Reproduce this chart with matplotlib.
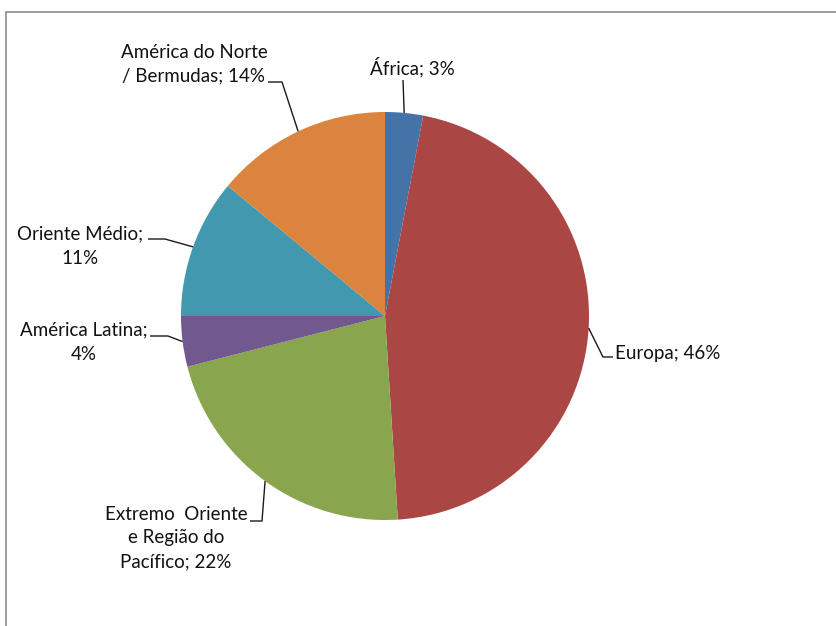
import matplotlib.pyplot as plt
from matplotlib.patches import Rectangle, Wedge
import numpy as np

# participação por região (%), no sentido horário a partir do topo
nomes = ['África;', 'Europa;', 'Extremo  Oriente\ne Região do\nPacífico;',
         'América Latina;\n', 'Oriente Médio;\n', 'América do Norte\n/ Bermudas;']
valores = [3, 46, 22, 4, 11, 14]
cores = ['#4572A7', '#AA4643', '#89A54E', '#71588F', '#4198AF', '#DB843D']

rotulos = [n + ('' if n.endswith('\n') else ' ') + f'{v}%' for n, v in zip(nomes, valores)]

W, H = 836, 626
fig = plt.figure(figsize=(W / 100, H / 100), dpi=100)
ax = fig.add_axes([0, 0, 1, 1])
ax.set_xlim(0, W)
ax.set_ylim(H, 0)
ax.axis('off')

# moldura do gráfico
fig.patches.append(Rectangle((6 / W, -0.1), 1.2, 1 - 12 / H + 0.1, transform=fig.transFigure,
                             fill=False, edgecolor='#8c8c8c', linewidth=1.2))

cx, cy, r = 385, 316, 204
# ângulos medidos no sentido horário a partir do topo
ang0 = 0.0
total = sum(valores)
meios = []
for v, c in zip(valores, cores):
    a1 = ang0 + 360 * v / total
    ax.add_patch(Wedge((cx, cy), r, ang0 - 90, a1 - 90, facecolor=c, edgecolor='none'))
    meios.append((ang0 + a1) / 2)
    ang0 = a1


def borda(ang):
    t = np.radians(ang)
    return cx + r * np.sin(t), cy - r * np.cos(t)


fonte = dict(family='Lato', fontsize=13.5, color='#111111', linespacing=1.5)

# posições dos rótulos e das linhas de chamada
pos = [(412, 67, 'center'), (615, 354, 'left'), (176, 538, 'center'),
       (84, 342, 'center'), (80, 246, 'center'), (194, 64, 'center')]
guias = [[(403, 80)], [(613, 357), (603, 357)], [(250, 521), (262, 521)],
         [(150, 336), (168, 336)], [(148, 239), (165, 239)], [(268, 82), (282, 82)]]
angulo_guia = list(meios)
angulo_guia[1] = 93.4

for txt, (x, y, ha), g, a in zip(rotulos, pos, guias, angulo_guia):
    ax.text(x, y, txt, ha=ha, va='center', multialignment='center', **fonte)
    xs, ys = zip(*(g + [borda(a)]))
    ax.plot(xs, ys, color='#1a1a1a', linewidth=1.0, solid_capstyle='butt')

fig.savefig('out.png', dpi=100)
